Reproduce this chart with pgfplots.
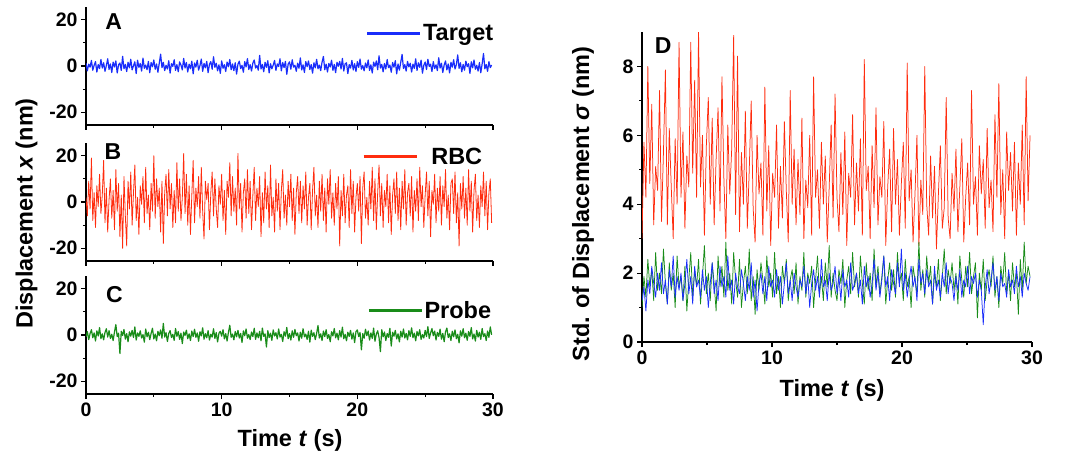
\documentclass[border=0pt]{standalone}
\usepackage{pgfplots}
\usepackage{pgfplotstable}
\pgfplotsset{compat=1.18}
\usepackage{fontspec}
\setmainfont{Liberation Sans}

\definecolor{cblue}{RGB}{25,45,250}
\definecolor{cred}{RGB}{255,45,15}
\definecolor{cgreen}{RGB}{25,140,25}

% left panels: one value every 0.1 s
\pgfplotstableread[row sep=\\, header=false]{
1.2\\-2.1\\0.8\\-0.5\\2.4\\-1.8\\0.3\\1.9\\-2.6\\0.6\\
-1.1\\2.8\\-0.9\\1.4\\-2.3\\0.2\\3.1\\-1.5\\0.9\\-2.8\\
1.7\\-0.4\\2.2\\-3.0\\0.5\\1.3\\-1.9\\4.2\\-1.2\\0.7\\
-2.4\\1.6\\-0.8\\2.9\\-1.7\\0.1\\1.8\\-3.3\\2.5\\-0.6\\
1.1\\-2.2\\3.4\\-1.0\\0.4\\-1.6\\2.0\\-2.9\\1.5\\-0.3\\
2.6\\-1.4\\0.9\\-2.7\\1.2\\5.1\\-0.7\\1.6\\-2.0\\0.3\\
-1.3\\2.3\\-3.1\\1.0\\-0.2\\2.7\\-1.9\\0.6\\-2.5\\1.8\\
0.4\\-1.7\\3.3\\-0.9\\1.5\\-2.6\\0.8\\-1.2\\2.1\\-3.4\\
1.3\\-0.5\\2.5\\-1.8\\0.2\\3.0\\-2.3\\1.1\\-0.8\\2.0\\
-2.9\\0.7\\1.9\\-1.4\\4.0\\-0.6\\1.2\\-2.1\\0.5\\-3.2\\
2.2\\-1.0\\0.6\\-2.4\\1.7\\-0.3\\2.8\\-1.6\\0.9\\-2.0\\
1.4\\-3.5\\0.8\\2.1\\-1.1\\0.3\\-2.7\\1.9\\-0.4\\3.2\\
-1.5\\0.6\\-2.2\\1.3\\2.6\\-0.9\\0.2\\-1.8\\4.6\\-1.3\\
0.7\\-2.5\\1.6\\-0.6\\2.3\\-3.0\\1.0\\-1.2\\0.4\\2.4\\
-1.9\\0.9\\-0.2\\3.1\\-2.1\\1.5\\-0.7\\2.0\\-3.6\\0.8\\
1.8\\-1.4\\2.7\\-0.5\\0.3\\-2.3\\1.2\\-1.0\\3.5\\-1.7\\
0.5\\-2.8\\1.9\\-0.3\\2.2\\-1.5\\0.6\\-3.1\\1.4\\-0.8\\
2.9\\-1.2\\0.4\\-2.0\\1.7\\4.1\\-1.6\\0.8\\-2.6\\1.1\\
-0.4\\2.5\\-1.9\\0.7\\-2.9\\1.6\\-0.1\\2.0\\-1.3\\3.3\\
-2.2\\0.9\\1.4\\-3.3\\0.6\\-0.9\\2.4\\-1.7\\1.0\\-2.4\\
1.9\\-0.6\\3.0\\-1.4\\0.2\\-2.1\\1.3\\-0.8\\2.6\\-1.9\\
0.5\\-3.0\\1.7\\-0.2\\2.2\\-1.6\\4.4\\-0.9\\0.7\\-2.5\\
1.1\\-1.3\\2.8\\-0.7\\0.4\\-2.7\\1.5\\-0.5\\2.3\\-3.4\\
0.9\\-1.8\\1.6\\5.0\\-1.1\\0.6\\-2.2\\2.0\\-0.4\\1.2\\
-2.6\\0.8\\-1.0\\3.1\\-1.9\\1.4\\-0.6\\2.5\\-3.1\\0.3\\
1.7\\-1.5\\2.9\\-0.2\\0.8\\-2.4\\1.9\\-1.1\\0.5\\-2.0\\
3.6\\-0.9\\1.2\\-2.8\\0.4\\2.2\\-1.7\\0.9\\-3.0\\1.6\\
-0.5\\2.7\\-1.3\\0.6\\4.8\\-1.0\\1.4\\-2.5\\0.7\\-1.8\\
2.1\\-0.3\\1.0\\-3.2\\1.8\\-0.8\\2.6\\-1.4\\0.3\\-2.2\\
1.5\\-2.9\\0.9\\5.4\\-1.2\\0.6\\-2.3\\1.9\\-0.7\\0.4\\
}\target

\pgfplotstableread[row sep=\\, header=false]{
2\\-6\\9\\-3\\19\\-8\\4\\-11\\7\\-2\\
12\\-5\\3\\18\\-9\\6\\-13\\1\\10\\-7\\
5\\-12\\14\\-4\\8\\-15\\3\\-20\\11\\-6\\
-19\\9\\-3\\13\\-10\\4\\16\\-8\\2\\-14\\
7\\-1\\11\\-9\\15\\-5\\3\\-12\\8\\-4\\
20\\-7\\10\\-2\\6\\-13\\9\\-18\\4\\12\\
-6\\14\\-3\\8\\-11\\5\\-9\\17\\-4\\10\\
-8\\2\\21\\-5\\12\\-10\\7\\-14\\3\\18\\
-9\\6\\-2\\11\\-7\\15\\-4\\-16\\9\\1\\
8\\-12\\4\\13\\-6\\10\\-3\\-11\\7\\-1\\
12\\-8\\5\\-14\\9\\2\\17\\-6\\11\\-4\\
6\\-10\\21\\-3\\8\\-13\\4\\10\\-7\\14\\
-5\\9\\-12\\3\\15\\-8\\6\\-2\\11\\-15\\
4\\-9\\13\\-3\\7\\-11\\16\\-6\\2\\-13\\
10\\-4\\8\\-12\\5\\14\\-7\\3\\-10\\9\\
-2\\12\\-8\\6\\-14\\4\\11\\-5\\9\\-9\\
7\\-3\\13\\-10\\2\\8\\-12\\5\\15\\-6\\
3\\-11\\9\\-4\\12\\-8\\6\\-13\\10\\-1\\
14\\-7\\4\\-10\\8\\-3\\11\\-19\\5\\-6\\
12\\-9\\3\\7\\-11\\14\\-5\\9\\-13\\2\\
8\\-4\\11\\-18\\6\\13\\-7\\2\\-10\\9\\
-3\\15\\-8\\10\\-12\\4\\16\\-6\\8\\-11\\
5\\-2\\12\\-9\\7\\-14\\3\\10\\-5\\13\\
-8\\6\\-12\\9\\-3\\14\\-10\\4\\8\\-6\\
11\\-13\\5\\-4\\10\\-8\\15\\-2\\7\\-11\\
3\\13\\-6\\9\\-15\\5\\-1\\12\\-9\\6\\
-4\\11\\-10\\7\\-2\\14\\-7\\3\\-12\\8\\
10\\-5\\13\\-9\\4\\-19\\8\\-3\\11\\-7\\
6\\-10\\14\\-4\\9\\-13\\5\\12\\-8\\3\\
-11\\7\\-2\\13\\-6\\9\\-12\\4\\10\\-9\\
}\rbc

\pgfplotstableread[row sep=\\, header=false]{
-0.8\\1.5\\-2.0\\0.6\\2.3\\-1.2\\0.9\\-2.6\\1.8\\-0.4\\
3.2\\-1.6\\0.5\\-2.1\\1.1\\2.7\\-0.9\\1.9\\-1.5\\0.3\\
-2.4\\1.3\\4.5\\-0.7\\0.8\\-8.0\\1.6\\-0.2\\2.4\\-1.8\\
0.6\\-2.9\\1.4\\-0.5\\2.0\\-1.1\\3.5\\-2.2\\0.9\\-0.6\\
1.8\\-1.3\\0.2\\-3.1\\2.6\\-0.8\\1.2\\-2.0\\0.7\\2.9\\
-1.7\\0.4\\-2.5\\1.6\\-0.3\\2.2\\-1.4\\5.0\\-0.9\\1.0\\
-2.8\\0.7\\1.9\\-1.1\\0.3\\-2.3\\2.8\\-0.6\\1.5\\-1.9\\
0.8\\-3.7\\1.3\\-0.2\\2.1\\-1.6\\0.5\\-2.4\\1.7\\-0.7\\
2.5\\-1.0\\0.9\\-2.7\\1.4\\-0.4\\3.1\\-1.8\\0.6\\-1.2\\
1.9\\-2.2\\0.3\\-0.9\\2.7\\-1.5\\1.1\\-3.0\\0.8\\1.6\\
-0.5\\2.3\\-1.7\\0.6\\-2.6\\1.2\\4.2\\-1.0\\0.4\\-2.1\\
1.5\\-0.8\\2.0\\-1.3\\0.7\\-3.2\\1.8\\-0.3\\2.6\\-1.4\\
0.2\\-2.0\\1.3\\-0.7\\2.9\\-1.9\\0.9\\-1.2\\1.6\\-2.5\\
3.0\\-0.6\\0.5\\-5.2\\1.9\\-1.1\\0.8\\-2.3\\2.2\\-0.4\\
1.0\\-1.7\\2.6\\-0.9\\0.3\\-2.8\\1.4\\-0.5\\3.3\\-1.6\\
0.6\\-2.2\\1.8\\-1.0\\2.4\\-0.3\\0.9\\-2.6\\1.2\\-1.4\\
2.7\\-0.8\\0.4\\-1.9\\1.6\\-3.1\\2.1\\-0.6\\1.0\\-2.0\\
0.7\\4.1\\-1.3\\0.5\\-2.4\\1.7\\-0.7\\2.3\\-1.5\\0.2\\
-2.9\\1.4\\-0.4\\2.8\\-1.2\\0.8\\-2.1\\1.9\\-0.9\\3.4\\
-1.6\\0.3\\-2.5\\1.2\\-0.6\\2.0\\-1.8\\0.9\\-3.3\\1.5\\
2.2\\-0.7\\1.1\\-6.4\\0.6\\-1.4\\2.5\\-0.3\\1.7\\-2.2\\
0.9\\-1.5\\3.0\\-2.7\\0.4\\1.8\\-1.1\\-7.2\\2.3\\-0.8\\
1.3\\-2.4\\0.6\\-1.0\\2.9\\-4.8\\1.2\\-0.5\\2.0\\-1.7\\
0.5\\-3.0\\1.6\\-0.9\\2.6\\-1.3\\0.7\\-2.1\\1.9\\-0.6\\
3.1\\-1.2\\0.8\\-2.5\\1.5\\-0.4\\2.3\\-1.9\\0.2\\-1.3\\
2.0\\-0.7\\3.6\\-1.5\\0.9\\2.8\\-0.3\\1.7\\-2.2\\1.1\\
-0.6\\2.5\\-1.8\\0.7\\-2.9\\1.4\\3.0\\-1.1\\0.5\\-2.4\\
1.6\\-0.8\\2.2\\-1.6\\0.3\\-3.4\\1.8\\-0.5\\2.7\\-1.2\\
0.8\\-2.3\\1.5\\-0.6\\3.2\\-1.7\\0.4\\-2.6\\2.0\\-0.9\\
1.2\\-1.9\\2.8\\-0.7\\0.6\\-2.4\\1.7\\-1.0\\3.5\\0.1\\
}\probe

% panel D: one value every 0.15 s
\pgfplotstableread[row sep=\\, header=false]{
3.0\\5.8\\4.2\\8.0\\4.6\\6.9\\3.4\\5.1\\4.4\\7.3\\
3.5\\5.5\\7.9\\3.4\\6.2\\4.5\\3.0\\5.9\\4.0\\8.7\\
4.2\\6.1\\3.3\\5.4\\4.5\\8.7\\4.9\\7.6\\4.2\\9.0\\
4.5\\6.0\\3.1\\5.7\\7.1\\4.0\\6.5\\3.4\\5.3\\6.8\\
3.8\\7.7\\4.7\\3.0\\6.3\\4.3\\5.6\\8.9\\3.7\\8.3\\
3.2\\5.5\\4.0\\6.7\\3.3\\5.0\\7.0\\3.9\\2.9\\6.0\\
4.3\\5.2\\3.1\\7.4\\3.8\\5.7\\2.8\\4.9\\4.2\\6.3\\
3.3\\5.1\\3.6\\6.4\\4.4\\2.9\\7.3\\4.0\\5.6\\3.4\\
5.3\\3.7\\6.5\\3.0\\4.7\\3.9\\6.0\\3.1\\7.7\\4.2\\
5.0\\3.3\\5.8\\4.0\\5.4\\2.9\\4.5\\6.3\\3.6\\7.2\\
4.2\\3.2\\5.5\\3.7\\6.1\\2.8\\4.9\\4.2\\6.6\\3.4\\
5.2\\3.8\\5.9\\3.1\\8.2\\4.4\\5.1\\3.0\\5.7\\3.9\\
6.8\\3.4\\4.8\\4.2\\6.4\\2.8\\4.5\\5.6\\3.2\\6.2\\
4.0\\5.3\\3.1\\4.6\\5.8\\3.3\\8.1\\4.1\\5.0\\2.9\\
4.3\\6.0\\2.8\\4.7\\3.7\\8.0\\4.0\\3.1\\5.4\\3.6\\
5.1\\2.7\\4.3\\5.7\\3.3\\3.9\\7.1\\3.6\\3.0\\4.9\\
3.8\\5.6\\3.2\\4.5\\5.9\\2.9\\4.2\\5.2\\3.4\\7.3\\
4.0\\4.8\\3.1\\5.7\\4.3\\5.3\\3.3\\6.2\\3.9\\4.7\\
3.2\\6.6\\4.2\\7.5\\3.7\\5.0\\3.0\\6.1\\4.4\\5.5\\
3.8\\5.8\\3.1\\5.2\\4.0\\6.3\\3.4\\7.7\\4.1\\6.0\\
}\sigrbc

\pgfplotstableread[row sep=\\, header=false]{
1.0\\1.9\\1.3\\2.4\\1.6\\2.1\\1.2\\2.6\\1.5\\2.0\\
1.4\\2.7\\1.7\\1.1\\2.3\\1.5\\2.0\\1.0\\2.5\\1.6\\
1.9\\1.2\\2.2\\0.9\\1.8\\2.6\\1.3\\2.1\\1.6\\2.4\\
1.1\\1.9\\2.8\\1.4\\2.0\\1.2\\2.3\\1.7\\0.9\\2.5\\
1.6\\2.2\\1.3\\2.9\\1.5\\2.0\\1.1\\2.6\\1.8\\1.3\\
2.4\\1.0\\1.7\\2.2\\1.4\\2.7\\1.2\\1.9\\0.8\\2.1\\
1.5\\2.3\\1.8\\1.1\\2.5\\1.6\\2.0\\1.3\\2.6\\1.4\\
1.9\\1.0\\2.2\\1.7\\2.4\\1.2\\1.8\\2.1\\1.4\\2.3\\
1.1\\1.9\\1.5\\2.6\\1.3\\2.0\\1.7\\2.2\\1.0\\1.8\\
2.5\\1.4\\1.9\\1.2\\2.3\\1.6\\2.8\\1.3\\2.0\\1.5\\
1.2\\2.1\\1.7\\2.4\\1.0\\1.8\\2.2\\1.4\\2.6\\1.6\\
2.0\\1.3\\2.5\\1.7\\1.1\\2.3\\1.5\\2.0\\1.2\\2.7\\
1.6\\2.2\\1.4\\1.9\\2.5\\1.1\\1.8\\2.3\\1.5\\2.1\\
1.3\\2.6\\1.7\\2.0\\1.2\\2.4\\1.6\\1.9\\1.0\\2.2\\
1.8\\1.4\\2.9\\1.5\\2.1\\1.3\\2.5\\1.7\\2.2\\1.1\\
2.0\\1.6\\2.4\\1.2\\1.9\\2.7\\1.4\\2.1\\1.7\\2.3\\
1.5\\2.0\\1.1\\2.5\\1.8\\1.3\\2.2\\1.6\\2.6\\1.4\\
1.9\\2.3\\0.7\\2.0\\1.5\\2.4\\1.2\\1.8\\2.1\\1.6\\
2.5\\1.3\\1.9\\1.0\\2.2\\1.7\\2.6\\1.4\\2.0\\1.2\\
2.3\\1.6\\2.0\\0.8\\2.4\\1.5\\2.9\\1.7\\2.2\\1.9\\
}\sigprobe

\pgfplotstableread[row sep=\\, header=false]{
1.2\\1.6\\0.9\\1.8\\1.4\\2.2\\1.7\\1.3\\2.0\\1.5\\
2.3\\1.4\\1.8\\1.1\\2.1\\1.6\\2.5\\1.3\\1.9\\1.5\\
2.0\\1.2\\1.7\\2.4\\1.4\\1.9\\1.1\\2.2\\1.6\\1.8\\
1.3\\2.1\\1.5\\1.9\\1.0\\1.7\\2.3\\1.4\\1.8\\1.2\\
2.2\\1.6\\1.9\\1.3\\2.5\\1.5\\1.8\\1.1\\2.0\\1.6\\
1.4\\2.1\\1.7\\1.2\\1.9\\1.5\\2.3\\1.3\\1.8\\0.9\\
1.7\\2.0\\1.4\\1.9\\1.2\\2.2\\1.6\\1.8\\1.3\\2.1\\
1.5\\1.9\\1.1\\1.7\\2.3\\1.4\\1.8\\1.2\\2.0\\1.6\\
1.3\\1.8\\1.6\\2.2\\1.4\\1.9\\1.0\\1.7\\2.1\\1.5\\
1.9\\1.3\\2.4\\1.6\\1.8\\1.2\\2.0\\1.5\\1.7\\2.2\\
1.4\\1.9\\1.2\\2.1\\1.6\\1.8\\1.3\\2.3\\1.5\\1.7\\
2.0\\1.4\\1.8\\1.1\\2.2\\1.6\\1.9\\1.3\\1.7\\2.4\\
1.5\\2.0\\1.3\\1.8\\2.5\\1.6\\1.9\\1.2\\2.1\\1.7\\
1.4\\2.3\\1.6\\2.7\\1.5\\2.0\\1.3\\1.8\\2.2\\1.6\\
1.9\\1.2\\2.4\\1.7\\2.0\\1.4\\2.1\\1.6\\1.8\\1.1\\
2.2\\1.5\\1.8\\1.3\\2.0\\1.6\\2.3\\1.4\\1.9\\1.7\\
1.2\\1.9\\1.5\\2.1\\1.3\\1.8\\1.6\\2.2\\1.4\\1.9\\
1.7\\2.0\\1.3\\1.8\\1.5\\0.5\\1.6\\2.1\\1.4\\1.8\\
2.3\\1.5\\1.9\\1.2\\2.0\\1.6\\1.7\\1.3\\2.1\\1.6\\
1.8\\1.4\\2.2\\1.6\\1.9\\1.3\\2.0\\1.7\\1.5\\1.9\\
}\sigtarget

\pgfplotsset{
  every non boxed x axis/.style={},
  every non boxed y axis/.style={},
  base/.style={
    scale only axis, enlargelimits=false,
    axis x line*=bottom, axis y line*=left,
    axis line style={-, line width=1.1pt},
    tick align=outside, tick style={line width=1.1pt, black},
    major tick length=5pt, minor tick length=3pt,
    xmin=0, xmax=30, xtick={0,10,20,30}, minor xtick={5,15,25},
    tick label style={font=\fontsize{19.5}{20}\selectfont\bfseries},
    /pgf/number format/assume math mode=true,
    legend style={draw=none, fill=none, anchor=east,
      font=\fontsize{23.5}{24}\selectfont\bfseries, nodes={inner sep=1.5pt}},
    legend image code/.code={\draw[line width=2.4pt] (0pt,0pt) -- (53pt,0pt);},
  },
  panel/.style={base, width=407pt, height=118pt,
    ymin=-25.5, ymax=25.5, ytick={-20,0,20}, minor ytick={-10,10}},
  trace/.style={line width=#1, line join=round},
}
\tikzset{letter/.style={font=\fontsize{23}{24}\selectfont\bfseries}}

\begin{document}
\begin{tikzpicture}

\begin{axis}[panel, at={(86pt,336pt)}, anchor=south west, xticklabels={},
  legend style={at={(rel axis cs:1.012,0.776)}}]
\addplot[cblue, trace=1.2pt] table[x expr=\coordindex*0.1, y index=0] {\target};
\addlegendentry{Target}
\node[letter] at (rel axis cs:0.068,0.879) {A};
\end{axis}

\begin{axis}[panel, at={(86pt,200pt)}, anchor=south west, xticklabels={},
  legend style={at={(rel axis cs:0.985,0.885)}}]
\addplot[cred, trace=0.8pt] table[x expr=\coordindex*0.1, y index=0] {\rbc};
\addlegendentry{\hspace{12pt}RBC}
\node[letter] at (rel axis cs:0.066,0.927) {B};
\end{axis}

\begin{axis}[panel, at={(86pt,67pt)}, anchor=south west,
  legend style={at={(rel axis cs:1.007,0.708)}}]
\addplot[cgreen, trace=1.2pt] table[x expr=\coordindex*0.1, y index=0] {\probe};
\addlegendentry{Probe}
\node[letter] at (rel axis cs:0.07,0.843) {C};
\end{axis}

\begin{axis}[base, at={(642pt,119pt)}, anchor=south west, width=390pt, height=310pt,
  ymin=0, ymax=9, ytick={0,2,4,6,8}, minor ytick={1,3,5,7}]
\addplot[cred, trace=0.75pt] table[x expr=\coordindex*0.15, y index=0] {\sigrbc};
\addplot[cgreen, trace=0.75pt] table[x expr=\coordindex*0.15, y index=0] {\sigprobe};
\addplot[cblue, trace=0.75pt] table[x expr=\coordindex*0.15, y index=0] {\sigtarget};
\node[letter] at (rel axis cs:0.054,0.955) {D};
\end{axis}

\node[rotate=90, font=\fontsize{23.5}{24}\selectfont\bfseries] at (26.5pt,247.5pt)
  {Displacement \textit{x} (nm)};
\node[font=\fontsize{23.5}{24}\selectfont\bfseries] at (290pt,21pt) {Time \textit{t} (s)};
\node[font=\fontsize{23.5}{24}\selectfont\bfseries] at (832pt,71pt) {Time \textit{t} (s)};
\node[rotate=90, font=\fontsize{23.5}{24}\selectfont\bfseries] at (583pt,257pt)
  {Std. of Displacement \textit{σ} (nm)};

\pgfresetboundingbox
\path[use as bounding box] (0pt,0pt) rectangle (1074pt,461pt);
\end{tikzpicture}
\end{document}
